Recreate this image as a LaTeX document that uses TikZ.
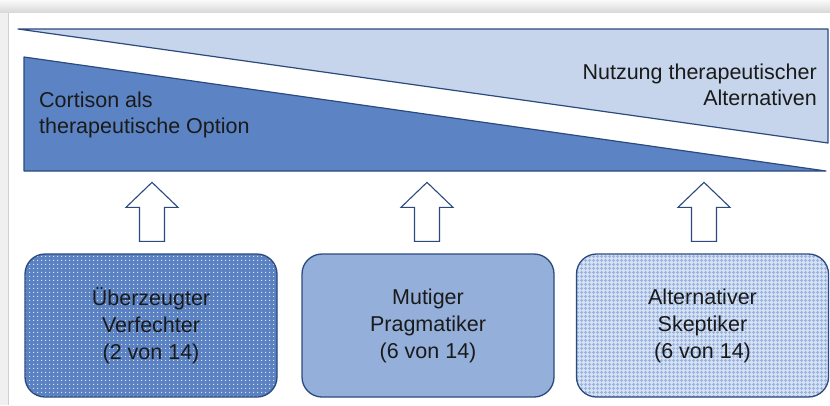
\documentclass[tikz,border=0pt]{standalone}
\usepackage{fontspec}
\setmainfont{Liberation Sans}
\usetikzlibrary{patterns}
\pgfdeclarepatternformonly{bdots}{\pgfpointorigin}{\pgfpoint{4pt}{4pt}}{\pgfpoint{4pt}{4pt}}{\pgfpathrectangle{\pgfpoint{1.3pt}{1.3pt}}{\pgfpoint{1.4pt}{1.4pt}}\pgfusepath{fill}}
\pgfdeclarepatternformonly{bgrid}{\pgfpointorigin}{\pgfpoint{4pt}{4pt}}{\pgfpoint{4pt}{4pt}}{\pgfsetlinewidth{1.3pt}\pgfpathmoveto{\pgfpoint{0pt}{2pt}}\pgfpathlineto{\pgfpoint{4pt}{2pt}}\pgfpathmoveto{\pgfpoint{2pt}{0pt}}\pgfpathlineto{\pgfpoint{2pt}{4pt}}\pgfusepath{stroke}}
\definecolor{darkband}{HTML}{5C84C4}
\definecolor{lightband}{HTML}{C6D5EB}
\definecolor{edgeblue}{HTML}{2C4A7E}
\definecolor{boxone}{HTML}{5A81C2}
\definecolor{boxtwo}{HTML}{94B0DA}
\definecolor{boxthree}{HTML}{D6E1F3}
\definecolor{gridblue}{HTML}{98B4DF}
\definecolor{txt}{HTML}{1A1A1A}
\begin{document}
\begin{tikzpicture}[x=1pt,y=-1pt,
  band/.style={draw=edgeblue, line width=1.2pt, line join=round},
  typebox/.style={draw=edgeblue, line width=1.3pt, rounded corners=20pt,
    minimum width=252pt, minimum height=143pt, align=center, text=txt,
    font=\fontsize{21.5}{27}\selectfont},
  bandtext/.style={inner sep=0pt, text=txt, font=\fontsize{21.5}{26}\selectfont},
  blockarrow/.style={draw=edgeblue, line width=1.1pt, fill=white, line join=miter}]
\useasboundingbox (0,0) rectangle (830,405);
% page shadow
\fill[gray!12] (0,0) rectangle (830,405);
\shade[top color=gray!4, bottom color=gray!30] (0,0) rectangle (830,12);
\fill[white] (9,13) rectangle (830,405);
\draw[gray!35, line width=0.8pt] (8,13) -- (8,405);
% bands
\draw[band, fill=lightband] (18,29) -- (828,29) -- (828,143) -- cycle;
\draw[band, fill=darkband] (24,57) -- (826,171) -- (24,171) -- cycle;
\node[bandtext, anchor=west, align=left] (cort) at (39,115) {Cortison als\\therapeutische Option};
\node[bandtext, anchor=east, align=right] (alt) at (817,85) {Nutzung therapeutischer\\Alternativen};
% boxes
\node[typebox, preaction={fill=boxone}, pattern=bdots, pattern color=white!78!boxone] (b1) at (151,325.5) {Überzeugter\\Verfechter\\(2 von 14)};
\node[typebox, fill=boxtwo] (b2) at (428,325.5) {Mutiger\\Pragmatiker\\(6 von 14)};
\node[typebox, preaction={fill=boxthree}, pattern=bgrid, pattern color=gridblue] (b3) at (702.5,325.5) {Alternativer\\Skeptiker\\(6 von 14)};
% block arrows
\foreach \b/\dx in {b1/1,b2/-1,b3/1.5}{
  \draw[blockarrow] ([shift={(\dx-12.5,-12)}]\b.north) -- ([shift={(\dx-12.5,-46)}]\b.north)
    -- ([shift={(\dx-26,-46)}]\b.north) -- ([shift={(\dx,-71)}]\b.north)
    -- ([shift={(\dx+26,-46)}]\b.north) -- ([shift={(\dx+12.5,-46)}]\b.north)
    -- ([shift={(\dx+12.5,-12)}]\b.north) -- cycle;
}
\end{tikzpicture}
\end{document}
